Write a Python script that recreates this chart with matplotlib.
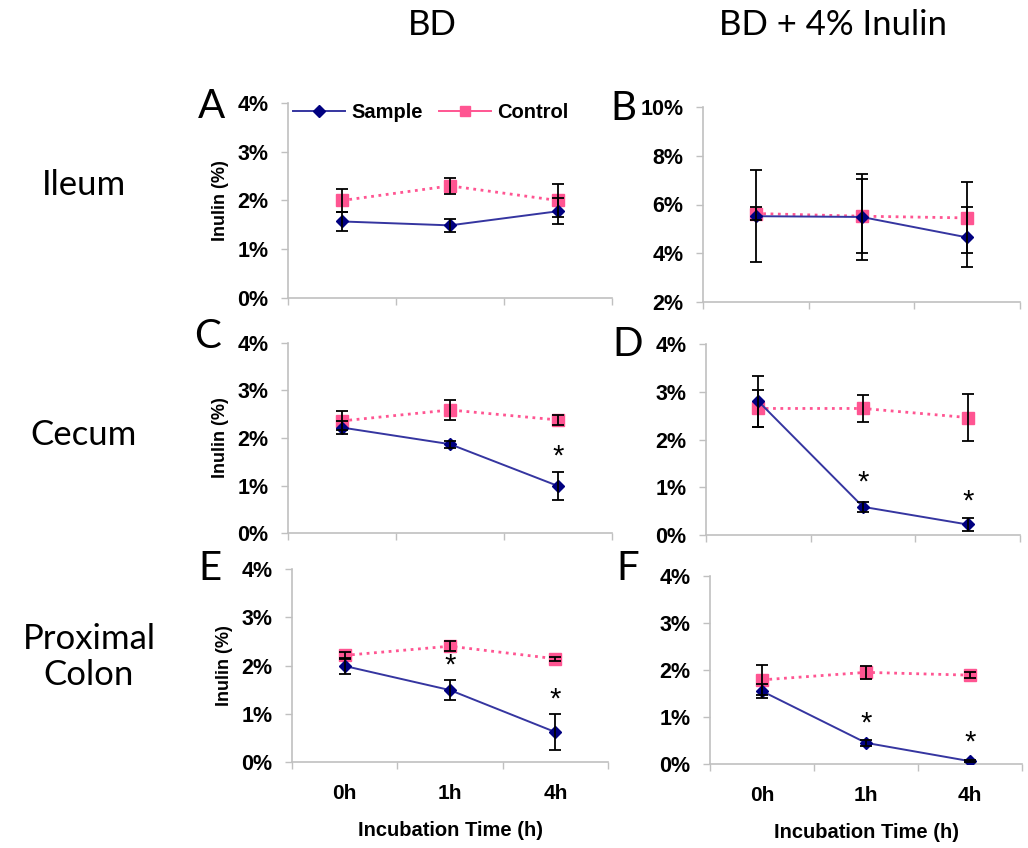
import numpy as np
import matplotlib
matplotlib.use("Agg")
import matplotlib.pyplot as plt
from matplotlib.lines import Line2D

# categories
times = ['0h', '1h', '4h']

# Ileum
ileum_bd_sample = [1.57, 1.49, 1.78]
ileum_bd_sample_err = [0.20, 0.13, 0.27]
ileum_bd_control = [2.00, 2.30, 2.00]
ileum_bd_control_err = [0.24, 0.17, 0.34]
ileum_inu_sample = [5.52, 5.49, 4.65]
ileum_inu_sample_err = [1.89, 1.75, 1.23]
ileum_inu_control = [5.63, 5.52, 5.45]
ileum_inu_control_err = [0.25, 1.53, 1.46]

# Cecum
cecum_bd_sample = [2.22, 1.87, 0.99]
cecum_bd_sample_err = [0.14, 0.07, 0.30]
cecum_bd_control = [2.36, 2.59, 2.38]
cecum_bd_control_err = [0.20, 0.22, 0.10]
cecum_inu_sample = [2.80, 0.59, 0.22]
cecum_inu_sample_err = [0.53, 0.11, 0.13]
cecum_inu_control = [2.65, 2.65, 2.46]
cecum_inu_control_err = [0.38, 0.28, 0.50]

# Proximal colon
colon_bd_sample = [1.99, 1.49, 0.62]
colon_bd_sample_err = [0.16, 0.20, 0.37]
colon_bd_control = [2.21, 2.40, 2.14]
colon_bd_control_err = [0.07, 0.10, 0.04]
colon_inu_sample = [1.55, 0.45, 0.06]
colon_inu_sample_err = [0.15, 0.06, 0.02]
colon_inu_control = [1.79, 1.95, 1.89]
colon_inu_control_err = [0.32, 0.14, 0.06]

# significance marks (y position of the *)
cecum_bd_star = [np.nan, np.nan, 1.61]
cecum_inu_star = [np.nan, 1.10, 0.70]
colon_bd_star = [np.nan, 2.00, 1.30]
colon_inu_star = [np.nan, 0.86, 0.45]
no_star = [np.nan, np.nan, np.nan]

W, H = 1028, 848
fig = plt.figure(figsize=(W / 100, H / 100), dpi=100)

SAMPLE_C = '#000080'
SAMPLE_LINE = '#3535a0'
CONTROL_C = '#ff5592'
AXIS_C = '#c0c0c0'
FONT = 'Liberation Sans'
TITLE_FONT = 'Lato'

def px_axes(left, top, right, bottom):
    return fig.add_axes([left / W, 1 - bottom / H, (right - left) / W, (bottom - top) / H])

panels = [
    # rect, sample, s_err, control, c_err, star, ylim, yticks, letter, letter pos
    ((288, 103, 612, 298), ileum_bd_sample, ileum_bd_sample_err, ileum_bd_control, ileum_bd_control_err,
     no_star, (0, 4), [0, 1, 2, 3, 4], 'A', (211, 107)),
    ((703, 107, 1020, 302), ileum_inu_sample, ileum_inu_sample_err, ileum_inu_control, ileum_inu_control_err,
     no_star, (2, 10), [2, 4, 6, 8, 10], 'B', (623, 108)),
    ((288, 343, 612, 533), cecum_bd_sample, cecum_bd_sample_err, cecum_bd_control, cecum_bd_control_err,
     cecum_bd_star, (0, 4), [0, 1, 2, 3, 4], 'C', (208, 336)),
    ((706, 344, 1020, 535), cecum_inu_sample, cecum_inu_sample_err, cecum_inu_control, cecum_inu_control_err,
     cecum_inu_star, (0, 4), [0, 1, 2, 3, 4], 'D', (628, 344)),
    ((292, 569, 608, 762), colon_bd_sample, colon_bd_sample_err, colon_bd_control, colon_bd_control_err,
     colon_bd_star, (0, 4), [0, 1, 2, 3, 4], 'E', (210, 569)),
    ((710, 576, 1022, 764), colon_inu_sample, colon_inu_sample_err, colon_inu_control, colon_inu_control_err,
     colon_inu_star, (0, 4), [0, 1, 2, 3, 4], 'F', (628, 569)),
]

x = np.arange(len(times)) + 0.5

for i, (rect, s, se, c, ce, star, ylim, yt, letter, lpos) in enumerate(panels):
    ax = px_axes(*rect)
    ax.plot(x, c, linestyle=':', color=CONTROL_C, linewidth=2, marker='s', markersize=8,
            markerfacecolor=CONTROL_C, markeredgecolor=CONTROL_C, zorder=2)
    ax.plot(x, s, linestyle='-', color=SAMPLE_LINE, linewidth=1.4, marker='D', markersize=6,
            markerfacecolor=SAMPLE_C, markeredgecolor=SAMPLE_C, zorder=3)
    ax.errorbar(x, c, yerr=ce, fmt='none', ecolor='black', elinewidth=1.3, capsize=4.5, capthick=1.3, zorder=4)
    ax.errorbar(x, s, yerr=se, fmt='none', ecolor='black', elinewidth=1.3, capsize=4.5, capthick=1.3, zorder=4)
    for xi, st in zip(x, star):
        if not np.isnan(st):
            ax.text(xi, st, '*', ha='center', va='center', fontsize=21, family=FONT)

    ax.set_xlim(0, 3)
    ax.set_ylim(*ylim)
    ax.set_yticks(yt)
    ax.set_yticklabels([f'{v}%' for v in yt], fontsize=15.5, fontweight='bold', family=FONT)
    ax.set_xticks([0, 1, 2, 3])
    ax.set_xticklabels([])
    ax.tick_params(axis='both', color=AXIS_C, length=5, width=1)
    ax.tick_params(axis='y', pad=9)
    for side in ['top', 'right']:
        ax.spines[side].set_visible(False)
    for side in ['left', 'bottom']:
        ax.spines[side].set_color(AXIS_C)
        ax.spines[side].set_linewidth(1.2)
    ax.set_facecolor('none')

    if i % 2 == 0:
        ax.set_ylabel('Inulin (%)', fontsize=13, fontweight='bold', family=FONT, labelpad=6)
    if i >= 4:
        ax.set_xticks(x, minor=True)
        ax.set_xticklabels(times, minor=True, fontsize=15, fontweight='bold', family=FONT)
        ax.tick_params(axis='x', which='minor', length=0, pad=16)
        ax.set_xlabel('Incubation Time (h)', fontsize=14.5, fontweight='bold', family=FONT, labelpad=13)

    fig.text(lpos[0] / W, 1 - lpos[1] / H, letter, ha='center', va='center', fontsize=29, family=TITLE_FONT)

    if i == 0:
        handles = [
            Line2D([], [], color=SAMPLE_LINE, linewidth=1.4, marker='D', markersize=6,
                   markerfacecolor=SAMPLE_C, markeredgecolor=SAMPLE_C),
            Line2D([], [], color=CONTROL_C, linewidth=1.4, marker='s', markersize=7,
                   markerfacecolor=CONTROL_C, markeredgecolor=CONTROL_C),
        ]
        ax.legend(handles, ['Sample', 'Control'], ncol=2, frameon=False, loc='center',
                  bbox_to_anchor=(0.44, 0.95), prop={'family': FONT, 'weight': 'bold', 'size': 14.5},
                  handlelength=2.6, columnspacing=0.8, handletextpad=0.3)

# column titles
fig.text(432 / W, 1 - 25 / H, 'BD', ha='center', va='center', fontsize=25, family=TITLE_FONT)
fig.text(833 / W, 1 - 25 / H, 'BD + 4% Inulin', ha='center', va='center', fontsize=25, family=TITLE_FONT)

# row labels
fig.text(84 / W, 1 - 185 / H, 'Ileum', ha='center', va='center', fontsize=25, family=TITLE_FONT)
fig.text(84 / W, 1 - 435 / H, 'Cecum', ha='center', va='center', fontsize=25, family=TITLE_FONT)
fig.text(89 / W, 1 - 657 / H, 'Proximal\nColon', ha='center', va='center', fontsize=25,
         family=TITLE_FONT, linespacing=1.15)

fig.savefig('out.png', dpi=100)
